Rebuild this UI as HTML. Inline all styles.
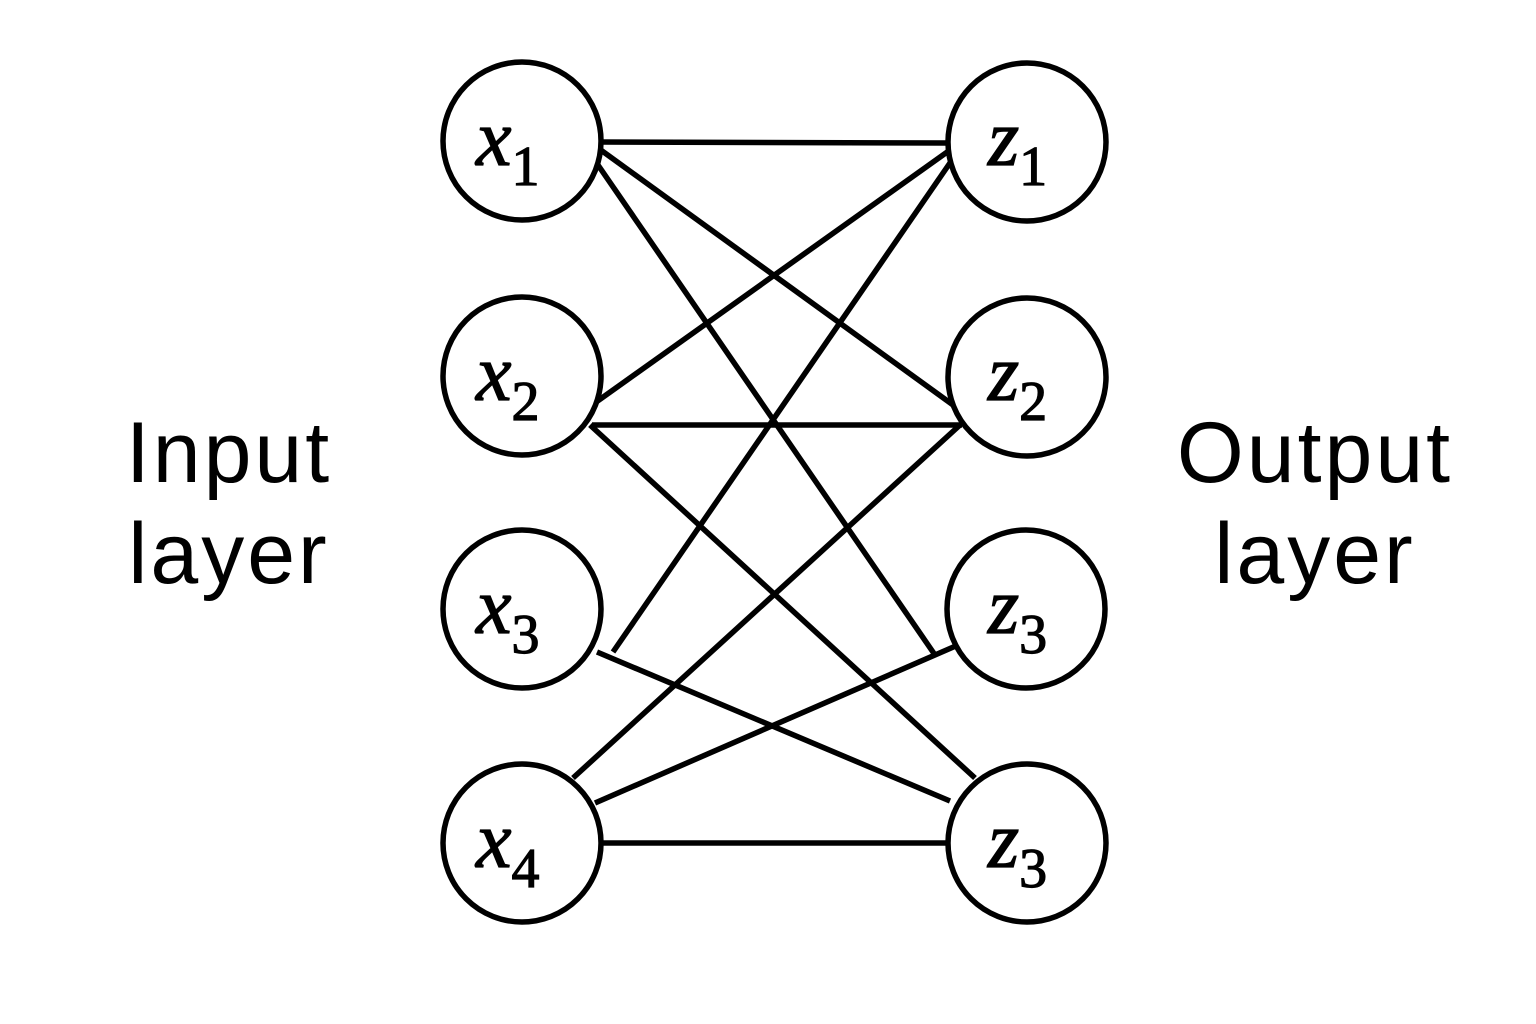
<!DOCTYPE html>
<html><head><meta charset="utf-8"><style>
html,body{margin:0;padding:0;background:#fff;}
svg{display:block}
</style></head><body>
<svg width="1536" height="1024" viewBox="0 0 1536 1024" xmlns="http://www.w3.org/2000/svg">
<rect width="1536" height="1024" fill="#fff"/>
<g stroke="#000" stroke-width="5.5" stroke-linecap="butt">
<line x1="598" y1="142" x2="948" y2="143"/>
<line x1="598" y1="148" x2="960" y2="410"/>
<line x1="598" y1="165" x2="935" y2="655"/>
<line x1="592" y1="405" x2="950" y2="150"/>
<line x1="592" y1="425" x2="962" y2="425"/>
<line x1="590" y1="425" x2="975" y2="778"/>
<line x1="613" y1="652" x2="952" y2="160"/>
<line x1="597" y1="652" x2="950" y2="801"/>
<line x1="573" y1="778" x2="960" y2="425"/>
<line x1="595" y1="803" x2="958" y2="645"/>
<line x1="598" y1="843" x2="948" y2="843"/>
</g>
<g fill="#fff" stroke="#000" stroke-width="5.5">
<circle cx="522" cy="141" r="79"/>
<circle cx="522" cy="376" r="79"/>
<circle cx="522" cy="609" r="79"/>
<circle cx="522" cy="843" r="79"/>
<circle cx="1027" cy="142" r="79"/>
<circle cx="1027" cy="377" r="79"/>
<circle cx="1026" cy="609" r="79"/>
<circle cx="1027" cy="843" r="79"/>
</g>
<g font-family="Liberation Serif, serif" fill="#000" stroke="#000" stroke-width="1.2">
<text x="476" y="165" font-size="80" font-style="italic">x<tspan font-style="normal" font-size="56" dy="20">1</tspan></text>
<text x="476" y="400" font-size="80" font-style="italic">x<tspan font-style="normal" font-size="56" dy="20">2</tspan></text>
<text x="476" y="633" font-size="80" font-style="italic">x<tspan font-style="normal" font-size="56" dy="20">3</tspan></text>
<text x="476" y="867" font-size="80" font-style="italic">x<tspan font-style="normal" font-size="56" dy="20">4</tspan></text>
<text x="988" y="165" font-size="80" font-style="italic">z<tspan font-style="normal" font-size="56" dy="20">1</tspan></text>
<text x="988" y="400" font-size="80" font-style="italic">z<tspan font-style="normal" font-size="56" dy="20">2</tspan></text>
<text x="988" y="633" font-size="80" font-style="italic">z<tspan font-style="normal" font-size="56" dy="20">3</tspan></text>
<text x="988" y="867" font-size="80" font-style="italic">z<tspan font-style="normal" font-size="56" dy="20">3</tspan></text>
</g>
<g font-family="Liberation Sans, sans-serif" font-size="86" fill="#000" text-anchor="middle" letter-spacing="3">
<text x="229" y="482">Input</text>
<text x="229" y="583">layer</text>
<text x="1315" y="482">Output</text>
<text x="1315" y="583">layer</text>
</g>
</svg>
</body></html>
